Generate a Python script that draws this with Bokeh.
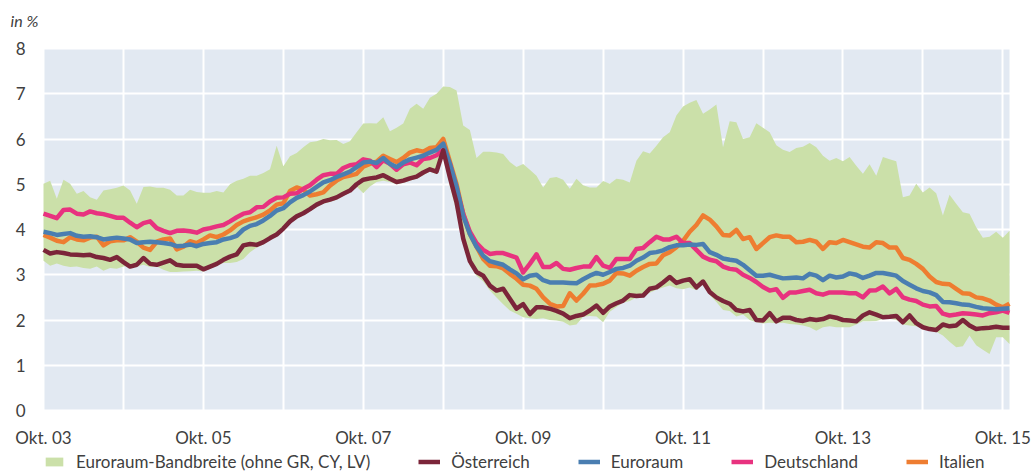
from bokeh.plotting import figure
from bokeh.models import ColumnDataSource, Legend, LegendItem, FixedTicker, Label
from bokeh.embed import file_html
from bokeh.resources import INLINE

# monthly observations, Oct 2003 .. Nov 2015
months = []
y, m = 2003, 10
while (y, m) <= (2015, 11):
    months.append(f"{y}-{m:02d}")
    m += 1
    if m > 12:
        m, y = 1, y + 1

band_low = [
    3.31, 3.20, 3.25, 3.20, 3.17, 3.18, 3.15, 3.13, 3.18, 3.09, 3.15, 3.13, 3.18, 3.20, 3.18, 3.22, 3.17, 3.18, 3.11, 3.06, 3.06, 3.07, 3.08, 3.09, 3.07,
    3.13, 3.20, 3.26, 3.26, 3.28, 3.35, 3.50, 3.60, 3.67, 3.76, 3.84, 3.97, 4.13, 4.24, 4.31, 4.40, 4.50, 4.57, 4.61, 4.66, 4.74, 4.81, 4.95,
    4.80, 4.95, 5.05, 5.08, 5.05, 5.00, 5.03, 5.08, 5.12, 5.20, 5.28, 5.22, 5.65, 4.95, 4.40, 3.70, 3.20, 2.98, 2.85, 2.65, 2.50, 2.35, 2.21, 2.14, 2.06, 2.04,
    2.02, 2.04, 2.00, 1.99, 1.96, 1.88, 1.90, 2.07, 2.09, 2.08, 1.95, 2.18, 2.29, 2.38, 2.42, 2.50, 2.55, 2.60, 2.67, 2.72, 2.76, 2.70,
    2.68, 2.72, 2.66, 2.80, 2.55, 2.40, 2.22, 2.20, 2.08, 2.12, 2.00, 1.95, 1.92, 1.94, 1.93, 1.94, 1.91, 1.90, 1.88, 1.84, 1.76, 1.84, 1.86, 1.84, 1.84, 1.84,
    1.90, 1.97, 1.97, 1.98, 2.02, 2.03, 2.00, 1.90, 1.88, 1.86, 1.80, 1.76, 1.74, 1.66, 1.52, 1.40, 1.42, 1.66, 1.44, 1.34, 1.25, 1.62, 1.62, 1.47,
]
band_high = [
    5.01, 5.08, 4.68, 5.10, 5.01, 4.79, 4.85, 4.71, 4.66, 4.86, 4.89, 4.92, 4.97, 4.86, 4.57, 4.94, 4.95, 4.92, 4.92, 4.88, 4.75, 4.75, 4.88, 4.83, 4.81,
    4.81, 4.85, 4.82, 5.00, 5.08, 5.12, 5.19, 5.19, 5.25, 5.33, 5.85, 5.40, 5.62, 5.69, 5.82, 5.93, 5.95, 6.00, 5.97, 5.98, 5.89, 5.95, 6.15,
    6.34, 6.35, 6.34, 6.48, 6.17, 6.25, 6.34, 6.67, 6.78, 6.67, 6.91, 7.00, 7.16, 7.15, 7.07, 6.30, 6.20, 5.58, 5.72, 5.72, 5.70, 5.67, 5.49, 5.38, 5.45, 5.32,
    5.19, 4.93, 5.14, 5.16, 5.10, 4.90, 5.12, 4.98, 4.93, 4.93, 5.07, 5.01, 5.12, 5.10, 5.04, 5.52, 5.73, 5.68, 5.85, 6.04, 6.15, 6.52,
    6.72, 6.80, 6.86, 6.56, 6.65, 6.76, 5.82, 6.39, 6.37, 6.00, 6.04, 6.35, 6.25, 6.15, 5.86, 5.76, 5.71, 5.80, 5.83, 5.91, 5.82, 5.63, 5.52, 5.58, 5.51, 5.60,
    5.41, 5.23, 5.44, 5.19, 5.60, 5.55, 5.51, 4.71, 4.75, 5.01, 4.82, 4.93, 4.80, 4.31, 4.77, 4.57, 4.38, 4.35, 4.05, 3.82, 3.84, 3.95, 3.82, 3.97,
]
oesterreich = [
    3.55, 3.47, 3.50, 3.48, 3.45, 3.44, 3.43, 3.44, 3.39, 3.37, 3.33, 3.39, 3.28, 3.18, 3.22, 3.37, 3.24, 3.22, 3.27, 3.32, 3.22, 3.20, 3.20, 3.20, 3.12,
    3.18, 3.24, 3.33, 3.40, 3.45, 3.65, 3.68, 3.66, 3.72, 3.81, 3.89, 4.02, 4.18, 4.29, 4.36, 4.45, 4.55, 4.62, 4.66, 4.71, 4.79, 4.86, 5.00,
    5.10, 5.13, 5.15, 5.20, 5.12, 5.05, 5.08, 5.13, 5.17, 5.26, 5.33, 5.28, 5.75, 5.15, 4.60, 3.80, 3.30, 3.06, 2.98, 2.76, 2.65, 2.69, 2.47, 2.25, 2.35, 2.13,
    2.28, 2.28, 2.25, 2.20, 2.14, 2.04, 2.09, 2.12, 2.21, 2.32, 2.16, 2.30, 2.37, 2.43, 2.55, 2.53, 2.54, 2.69, 2.72, 2.83, 2.95, 2.82,
    2.87, 2.90, 2.72, 2.85, 2.62, 2.50, 2.42, 2.36, 2.22, 2.19, 2.22, 2.00, 1.99, 2.15, 1.97, 2.05, 2.05, 2.00, 1.98, 2.02, 2.00, 2.02, 2.08, 2.05, 2.00, 1.99,
    1.97, 2.10, 2.17, 2.12, 2.06, 2.07, 2.09, 1.95, 2.10, 1.93, 1.84, 1.80, 1.78, 1.90, 1.86, 1.88, 2.00, 1.88, 1.80, 1.82, 1.83, 1.85, 1.83, 1.83,
]
euroraum = [
    3.95, 3.92, 3.88, 3.90, 3.92, 3.86, 3.84, 3.85, 3.83, 3.78, 3.80, 3.82, 3.80, 3.78, 3.70, 3.72, 3.73, 3.72, 3.70, 3.68, 3.63, 3.64, 3.67, 3.63, 3.68,
    3.70, 3.72, 3.78, 3.81, 3.86, 4.00, 4.08, 4.12, 4.20, 4.30, 4.42, 4.47, 4.60, 4.70, 4.76, 4.84, 4.94, 5.04, 5.09, 5.16, 5.22, 5.28, 5.38,
    5.48, 5.50, 5.47, 5.58, 5.45, 5.38, 5.48, 5.55, 5.59, 5.63, 5.70, 5.76, 5.90, 5.45, 4.95, 4.30, 3.90, 3.62, 3.42, 3.30, 3.26, 3.22, 3.12, 3.03, 2.90, 2.98,
    3.00, 2.88, 2.83, 2.83, 2.83, 2.82, 2.81, 2.90, 2.98, 3.04, 3.00, 3.06, 3.13, 3.15, 3.20, 3.31, 3.38, 3.48, 3.50, 3.54, 3.61, 3.65,
    3.65, 3.67, 3.66, 3.68, 3.50, 3.44, 3.36, 3.33, 3.31, 3.22, 3.10, 2.98, 2.98, 3.00, 2.96, 2.92, 2.93, 2.94, 2.92, 3.02, 2.98, 2.88, 2.98, 2.94, 2.96, 3.03,
    3.00, 2.93, 2.98, 3.04, 3.04, 3.01, 2.98, 2.86, 2.78, 2.70, 2.64, 2.61, 2.55, 2.40, 2.39, 2.37, 2.34, 2.33, 2.29, 2.26, 2.25, 2.24, 2.25, 2.26,
]
deutschland = [
    4.35, 4.30, 4.25, 4.43, 4.44, 4.35, 4.33, 4.40, 4.36, 4.34, 4.30, 4.26, 4.26, 4.15, 4.05, 4.14, 4.18, 4.03, 3.97, 3.92, 3.97, 3.98, 3.96, 3.93, 4.00,
    4.03, 4.07, 4.10, 4.18, 4.27, 4.35, 4.38, 4.49, 4.50, 4.62, 4.70, 4.71, 4.79, 4.80, 4.90, 4.98, 5.10, 5.20, 5.23, 5.23, 5.36, 5.42, 5.44,
    5.55, 5.52, 5.38, 5.53, 5.45, 5.32, 5.44, 5.48, 5.42, 5.56, 5.58, 5.64, 5.76, 5.45, 4.90, 4.35, 3.95, 3.70, 3.55, 3.46, 3.48, 3.48, 3.43, 3.38, 3.05, 3.24,
    3.45, 3.17, 3.17, 3.26, 3.13, 3.11, 3.15, 3.18, 3.18, 3.39, 3.20, 3.15, 3.35, 3.35, 3.35, 3.57, 3.59, 3.72, 3.84, 3.78, 3.78, 3.84,
    3.70, 3.70, 3.55, 3.40, 3.33, 3.30, 3.18, 3.13, 3.11, 3.00, 2.93, 2.84, 2.73, 2.65, 2.68, 2.49, 2.61, 2.61, 2.64, 2.67, 2.59, 2.56, 2.61, 2.61, 2.61, 2.59,
    2.59, 2.50, 2.65, 2.66, 2.74, 2.59, 2.69, 2.50, 2.45, 2.42, 2.34, 2.30, 2.31, 2.14, 2.10, 2.12, 2.15, 2.14, 2.12, 2.10, 2.15, 2.17, 2.21, 2.16,
]
italien = [
    3.88, 3.82, 3.75, 3.72, 3.83, 3.78, 3.76, 3.82, 3.84, 3.65, 3.74, 3.76, 3.76, 3.83, 3.73, 3.60, 3.55, 3.73, 3.78, 3.80, 3.56, 3.62, 3.74, 3.70, 3.78,
    3.87, 3.83, 3.89, 3.98, 4.10, 4.18, 4.23, 4.27, 4.33, 4.42, 4.55, 4.58, 4.85, 4.93, 4.88, 4.75, 4.78, 4.82, 4.97, 5.08, 5.16, 5.19, 5.23,
    5.39, 5.45, 5.50, 5.63, 5.56, 5.49, 5.58, 5.70, 5.75, 5.72, 5.80, 5.82, 6.00, 5.50, 5.00, 4.35, 3.90, 3.62, 3.35, 3.20, 3.19, 3.14, 3.02, 2.91, 2.78, 2.76,
    2.69, 2.50, 2.36, 2.30, 2.31, 2.59, 2.43, 2.58, 2.76, 2.77, 2.80, 2.87, 3.04, 3.03, 2.98, 3.09, 3.17, 3.24, 3.25, 3.43, 3.50, 3.61,
    3.75, 3.95, 4.10, 4.31, 4.22, 4.07, 3.88, 3.87, 3.99, 3.79, 3.83, 3.57, 3.70, 3.83, 3.87, 3.84, 3.84, 3.72, 3.73, 3.77, 3.73, 3.57, 3.72, 3.70, 3.77, 3.72,
    3.67, 3.62, 3.60, 3.72, 3.70, 3.60, 3.60, 3.37, 3.33, 3.24, 3.13, 2.96, 2.84, 2.80, 2.79, 2.69, 2.59, 2.58, 2.50, 2.48, 2.43, 2.34, 2.28, 2.36,
]
tick_labels = ["Okt. 03", "Okt. 05", "Okt. 07", "Okt. 09", "Okt. 11", "Okt. 13", "Okt. 15"]
legend_labels = ["Euroraum-Bandbreite (ohne GR, CY, LV)", "Österreich", "Euroraum", "Deutschland", "Italien"]
unit_label = "in %"

n = len(months)
for arr in (band_low, band_high, oesterreich, euroraum, deutschland, italien):
    assert len(arr) == n, len(arr)

x = list(range(n))
src = ColumnDataSource(dict(x=x, lo=band_low, hi=band_high, at=oesterreich,
                            ea=euroraum, de=deutschland, it=italien))

FONT = "Lato"
TXT = "#404040"
Y_MAX = 8
W, H = 1031, 472
TOP, LEFT, RIGHT = 48, 43, 22      # margins around the 0..8 plotting area (px)
PLOT_W, PLOT_H = W - LEFT - RIGHT, 362
# the frame covers the whole canvas; the plotting area is drawn inside it
ppx = PLOT_W / (n - 1)
ppy = PLOT_H / Y_MAX
x_lo, x_hi = -LEFT / ppx, (n - 1) + RIGHT / ppx
y_lo, y_hi = -(H - TOP - PLOT_H) / ppy, Y_MAX + TOP / ppy

p = figure(width=W, height=H, x_range=(x_lo, x_hi), y_range=(y_lo, y_hi),
           output_backend="svg", toolbar_location=None,
           min_border_left=0, min_border_right=0, min_border_top=0, min_border_bottom=0)
p.background_fill_color = "white"
p.border_fill_color = "white"
p.outline_line_color = None

# plotting area background (x data extent, y 0..8)
p.quad(left=0, right=n - 1, bottom=0, top=Y_MAX, fill_color="#E2E9F2", line_color=None, level="image")

oct_idx = [i for i, mm in enumerate(months) if mm.endswith("-10")]
p.xaxis.ticker = FixedTicker(ticks=oct_idx)
p.xgrid.ticker = FixedTicker(ticks=oct_idx)
overrides = {}
lab_iter = iter(tick_labels)
for k, i in enumerate(oct_idx):
    overrides[i] = next(lab_iter) if k % 2 == 0 else ""
p.xaxis.major_label_overrides = overrides
p.xaxis.fixed_location = 0
p.yaxis.fixed_location = 0
p.yaxis.ticker = FixedTicker(ticks=list(range(0, Y_MAX + 1)))
p.ygrid.ticker = FixedTicker(ticks=list(range(0, Y_MAX + 1)))

for g in (p.xgrid, p.ygrid):
    g.grid_line_color = "white"
    g.grid_line_width = 2
for ax in (p.xaxis, p.yaxis):
    ax.axis_line_color = None
    ax.major_tick_line_color = None
    ax.minor_tick_line_color = None
    ax.major_label_text_font = FONT
    ax.major_label_text_font_size = "17px"
    ax.major_label_text_color = TXT
p.xaxis.major_label_standoff = 10
p.yaxis.major_label_standoff = 12

band = p.varea(x="x", y1="lo", y2="hi", source=src, fill_color="#CBE0A9")
r_it = p.line("x", "it", source=src, line_color="#EE7D31", line_width=4.5, line_join="round")
r_de = p.line("x", "de", source=src, line_color="#E8327F", line_width=4.5, line_join="round")
r_ea = p.line("x", "ea", source=src, line_color="#4A7EB1", line_width=4.5, line_join="round")
r_at = p.line("x", "at", source=src, line_color="#7B2539", line_width=4.5, line_join="round")

unit = Label(x=x_lo + 10 / ppx, y=Y_MAX + 28 / ppy, text=unit_label, text_font=FONT,
             text_font_style="italic", text_font_size="16px", text_color=TXT,
             text_baseline="middle", text_align="left")
p.add_layout(unit)

legend = Legend(
    items=[LegendItem(label=lab, renderers=[r])
           for lab, r in zip(legend_labels, [band, r_at, r_ea, r_de, r_it])],
    location=(LEFT, 0), orientation="horizontal", glyph_width=22, glyph_height=11,
    label_standoff=11, spacing=48, padding=2, margin=0, border_line_color=None,
    background_fill_alpha=0, label_text_font=FONT,
    label_text_font_size="17px", label_text_color=TXT)
p.add_layout(legend)

open("out.html", "w").write(file_html(p, INLINE))
